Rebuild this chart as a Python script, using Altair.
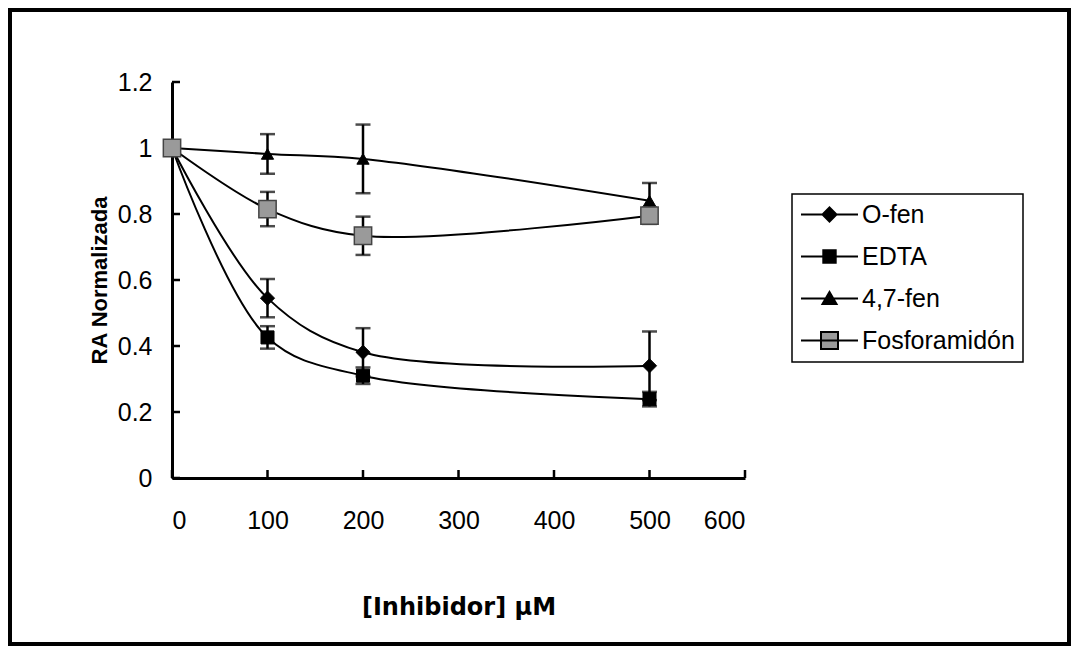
import altair as alt
import pandas as pd

# ---- data ----
series = ["O-fen", "EDTA", "4,7-fen", "Fosforamidón"]
conc = [0, 100, 200, 500]
o_fen = [1.0, 0.545, 0.381, 0.340]
o_fen_err = [0.0, 0.058, 0.073, 0.104]
edta = [1.0, 0.426, 0.310, 0.239]
edta_err = [0.0, 0.034, 0.025, 0.022]
fen47 = [1.0, 0.982, 0.967, 0.840]
fen47_err = [0.0, 0.060, 0.104, 0.054]
fosfo = [1.0, 0.815, 0.734, 0.795]
fosfo_err = [0.0, 0.052, 0.058, 0.025]
x_ticks = [0, 100, 200, 300, 400, 500, 600]
y_ticks = [0, 0.2, 0.4, 0.6, 0.8, 1.0, 1.2]

values = [o_fen, edta, fen47, fosfo]
errors = [o_fen_err, edta_err, fen47_err, fosfo_err]
rows = []
for s, vals, errs in zip(series, values, errors):
    for c, v, e in zip(conc, vals, errs):
        rows.append({"serie": s, "conc": c, "val": v, "err": e,
                     "lo": v - e, "hi": v + e})
df = pd.DataFrame(rows)

W, H = 573, 396
PL, PT, PR, PB = 164, 74, 326, 168

xs = alt.Scale(domain=[0, 600], nice=False)
ys = alt.Scale(domain=[0, 1.2], nice=False)
YT = "RA Normalizada"
XT = "[Inhibidor] µM"

x_axis = alt.Axis(values=x_ticks, ticks=False, labelPadding=30, labelFontSize=25,
                  labelFont="Liberation Sans", labelColor="black",
                  domainColor="black", domainWidth=3,
                  title=XT, titleFont="DejaVu Sans", titleFontSize=24,
                  titleFontWeight="bold", titlePadding=62, titleColor="black")
y_axis = alt.Axis(values=y_ticks, ticks=False, labelPadding=20, labelFontSize=25,
                  labelFont="Liberation Sans", labelColor="black", format="~g",
                  domainColor="black", domainWidth=3,
                  title=YT, titleFont="Liberation Sans", titleFontSize=22,
                  titleFontWeight="bold", titlePadding=6, titleColor="black")

base = alt.Chart(df)

lines = base.mark_line(color="black", strokeWidth=2, interpolate="catmull-rom").encode(
    x=alt.X("conc:Q", scale=xs, axis=x_axis),
    y=alt.Y("val:Q", scale=ys, axis=y_axis),
    detail="serie:N",
    order="conc:Q",
)

ebars = base.transform_filter("datum.err > 0").mark_errorbar(
    color="black", ticks={"size": 15, "thickness": 2.5}, rule={"strokeWidth": 2.5}
).encode(
    x=alt.X("conc:Q", scale=xs, title=XT),
    y=alt.Y("lo:Q", scale=ys, title=YT),
    y2="hi:Q",
)

def pts(name, shape, size, fill, stroke, sw):
    return base.transform_filter(alt.datum.serie == name).mark_point(
        shape=shape, size=size, filled=True, fill=fill, stroke=stroke,
        strokeWidth=sw, opacity=1
    ).encode(
        x=alt.X("conc:Q", scale=xs, title=XT),
        y=alt.Y("val:Q", scale=ys, title=YT),
    )

p1 = pts("O-fen", "diamond", 200, "black", "black", 1)
p2 = pts("EDTA", "square", 170, "black", "black", 1)
p3 = pts("4,7-fen", "triangle-up", 150, "black", "black", 1)
p4 = pts("Fosforamidón", "square", 300, "#9a9a9a", "#444444", 1.5)

# inward ticks
ytick_df = pd.DataFrame({"v": y_ticks})
xtick_df = pd.DataFrame({"v": x_ticks})
yt = alt.Chart(ytick_df).mark_rule(color="black", strokeWidth=2.5).encode(
    y=alt.Y("v:Q", scale=ys, title=YT), x=alt.value(0), x2=alt.value(8))
xt = alt.Chart(xtick_df).mark_rule(color="black", strokeWidth=2.5).encode(
    x=alt.X("v:Q", scale=xs, title=XT), y=alt.value(H), y2=alt.value(H - 8))

# legend symbols: line + marker paths
line_p = "M-2.85,0L2.85,0"
paths = [
    line_p + "M0,-0.7L0.7,0L0,0.7L-0.7,0Z",
    line_p + "M-0.62,-0.62L0.62,-0.62L0.62,0.62L-0.62,0.62Z",
    line_p + "M0,-0.65L0.7,0.55L-0.7,0.55Z",
    line_p + "M-0.85,-0.85L0.85,-0.85L0.85,0.85L-0.85,0.85Z",
]
fills = ["black", "black", "black", "#9a9a9a"]
strokes = ["black", "black", "black", "black"]
leg = alt.Legend(orient="none", legendX=620, legendY=112, title=None,
                 strokeColor="black", padding=8, rowPadding=16,
                 labelFont="Liberation Sans", labelFontSize=25, labelColor="black",
                 symbolSize=400, symbolOffset=17, labelOffset=20,
                 symbolStrokeWidth=2, symbolOpacity=1,
                 labelLimit=400)
leg_df = pd.DataFrame({"serie": series, "conc": [0] * 4, "val": [1.0] * 4})
legend_layer = alt.Chart(leg_df).mark_point(filled=False, opacity=0, strokeWidth=2).encode(
    x=alt.X("conc:Q", scale=xs, title=XT),
    y=alt.Y("val:Q", scale=ys, title=YT),
    shape=alt.Shape("serie:N", scale=alt.Scale(domain=series, range=paths), legend=leg),
    fill=alt.Fill("serie:N", scale=alt.Scale(domain=series, range=fills), legend=leg),
    stroke=alt.Stroke("serie:N", scale=alt.Scale(domain=series, range=strokes), legend=leg),
)

# outer frame
frame = alt.Chart(pd.DataFrame({"k": [0]})).mark_rect(
    fill="white", fillOpacity=0, stroke="black", strokeWidth=4
).encode(
    x=alt.value(-PL + 2), x2=alt.value(W + PR - 2),
    y=alt.value(-PT + 2), y2=alt.value(H + PB - 2),
)

chart = alt.layer(
    frame, lines, ebars, yt, xt, legend_layer, p1, p2, p3, p4
).properties(
    width=W, height=H,
    autosize=alt.AutoSizeParams(type="none"),
    padding={"left": PL, "top": PT, "right": PR, "bottom": PB},
    background="white",
).configure_view(stroke=None).configure_axis(grid=False).configure_legend(strokeWidth=1.5)

chart.save("out.html", embed_options={"renderer": "svg", "actions": False})
